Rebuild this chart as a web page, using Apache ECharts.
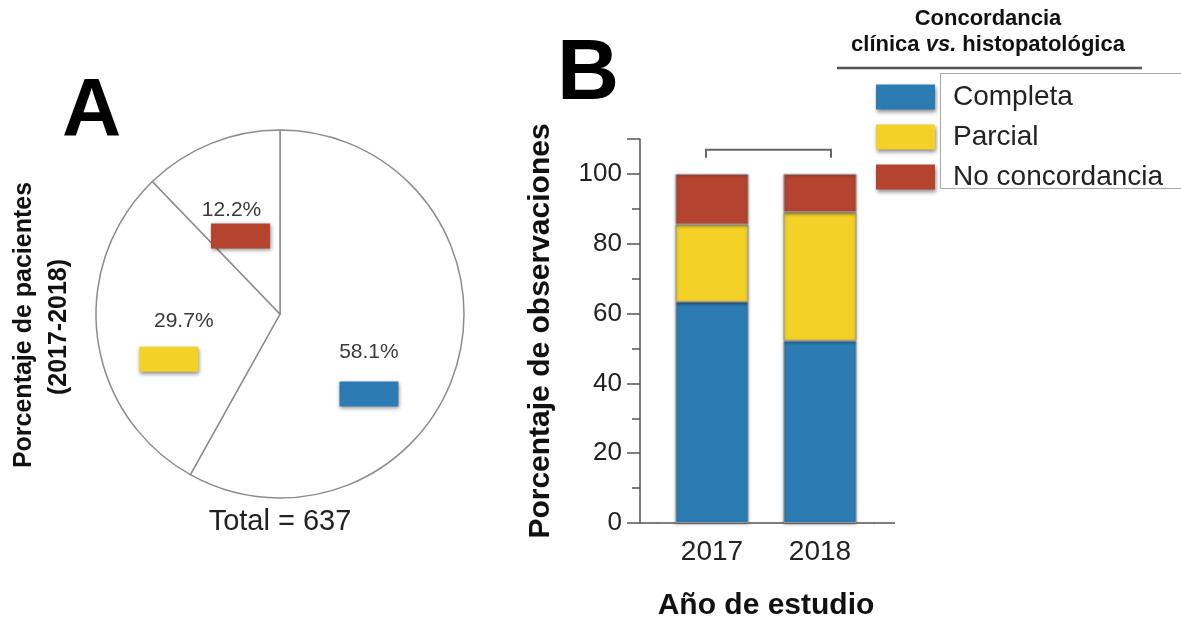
<!DOCTYPE html>
<html>
<head>
<meta charset="utf-8">
<script src="https://cdn.jsdelivr.net/npm/echarts@6/dist/echarts.min.js"></script>
<style>
  html, body { margin: 0; padding: 0; background: #fff; }
  #main { width: 1181px; height: 622px; }
</style>
</head>
<body>
<div id="main"></div>
<script>
// ---------- DATA ----------
const categories = ['2017', '2018'];
const seriesNames = ['Completa', 'Parcial', 'No concordancia'];
const completaValues = [63.3, 52.2];
const parcialValues = [22.2, 36.8];
const noConcordanciaValues = [14.5, 11.0];
const pieValues = [58.1, 29.7, 12.2];
const pieTotalText = 'Total = 637';
const pieTitleLines = ['Porcentaje de pacientes', '(2017-2018)'];
const legendTitleLine1 = 'Concordancia';
const legendTitleLine2 = ['clínica ', 'vs.', ' histopatológica'];
const xAxisTitle = 'Año de estudio';
const yAxisTitle = 'Porcentaje de observaciones';
const panelLabels = ['A', 'B'];
// comparison bracket between the two years (y levels in axis units)
const bracketLevels = [104.6, 106.9];

// ---------- STYLE ----------
const FONT = '"Liberation Sans", Arial, Helvetica, sans-serif';
const colors = ['#2c7bb3', '#f4d127', '#b4432f'];
const axisColor = '#555';
// label shifts for pie labels (dx, dy) and text spacing
const pieLabelShift = [[-3, 27], [-17, 8], [-4, -3]];
const pieTextLineHeight = [58, 50, 26];
const pieTextPadding = [[0, 0, 0, 0], [0, 0, 0, 30], [0, 18, 0, 0]];

const chart = echarts.init(document.getElementById('main'), null, { renderer: 'canvas' });

const shadow = { shadowBlur: 4, shadowColor: 'rgba(0,0,0,0.45)', shadowOffsetX: 1, shadowOffsetY: 2 };

const pieRich = {};
seriesNames.forEach((n, i) => {
  pieRich['p' + i] = {
    fontFamily: FONT, fontSize: 21, color: '#3a3a3a',
    lineHeight: pieTextLineHeight[i], padding: pieTextPadding[i]
  };
  pieRich['b' + i] = Object.assign({
    width: 59, height: 25, backgroundColor: colors[i], lineHeight: 25
  }, shadow);
});

const barValues = [completaValues, parcialValues, noConcordanciaValues];

const barSeries = seriesNames.map((name, i) => ({
  name: name,
  type: 'bar',
  stack: 'total',
  xAxisIndex: 0,
  yAxisIndex: 0,
  barWidth: 73,
  data: barValues[i],
  itemStyle: Object.assign({
    color: colors[i], borderColor: '#9a9a9a', borderWidth: 1
  }, { shadowBlur: 3, shadowColor: 'rgba(0,0,0,0.35)', shadowOffsetY: 1 }),
  emphasis: { disabled: true },
  silent: true
}));

const bracketSeries = {
  name: 'bracket',
  type: 'custom',
  xAxisIndex: 0,
  yAxisIndex: 0,
  silent: true,
  data: [[0, bracketLevels[1]]],
  renderItem: (params, api) => {
    const l0 = api.coord([categories[0], bracketLevels[0]]);
    const l1 = api.coord([categories[0], bracketLevels[1]]);
    const r0 = api.coord([categories[1], bracketLevels[0]]);
    const r1 = api.coord([categories[1], bracketLevels[1]]);
    return {
      type: 'polyline',
      shape: { points: [[l0[0] - 6, l0[1]], [l1[0] - 6, l1[1]], [r1[0] + 11, r1[1]], [r0[0] + 11, r0[1]]] },
      style: { stroke: '#666', lineWidth: 2, fill: null }
    };
  }
};

const option = {
  backgroundColor: '#fff',
  animation: false,
  textStyle: { fontFamily: FONT },
  grid: { left: 658, top: 139, width: 216, height: 384, containLabel: false, outerBoundsMode: 'none' },
  legend: {
    data: seriesNames,
    orient: 'vertical',
    left: 871,
    top: 78,
    itemWidth: 59,
    itemHeight: 25,
    itemGap: 12,
    icon: 'rect',
    selectedMode: false,
    z: 10,
    itemStyle: { borderWidth: 0, shadowBlur: 4, shadowColor: 'rgba(0,0,0,0.45)', shadowOffsetX: 1, shadowOffsetY: 2 },
    textStyle: { fontFamily: FONT, fontSize: 28, color: '#222', padding: [0, 0, 0, 13] }
  },
  xAxis: {
    type: 'category',
    data: categories,
    boundaryGap: true,
    axisLine: { lineStyle: { color: axisColor, width: 1.5 } },
    axisTick: { alignWithLabel: true, length: 9, lineStyle: { color: axisColor, width: 1.5 } },
    axisLabel: { fontFamily: FONT, fontSize: 28, color: '#222', margin: 15 },
    name: xAxisTitle,
    nameLocation: 'middle',
    nameGap: 68,
    nameTextStyle: { fontFamily: FONT, fontSize: 30, fontWeight: 'bold', color: '#111' }
  },
  yAxis: [
    {
      type: 'value',
      min: 0, max: 110, interval: 10,
      offset: 18,
      axisLine: { show: true, lineStyle: { color: axisColor, width: 1.5 } },
      axisTick: { show: true, length: 8, lineStyle: { color: axisColor, width: 1.5 } },
      splitLine: { show: false },
      axisLabel: {
        fontFamily: FONT, fontSize: 26, color: '#222', margin: 18,
        formatter: v => (v % 20 === 0 && v <= 100) ? String(v) : ''
      },
      name: yAxisTitle,
      nameLocation: 'middle',
      nameGap: 84,
      nameTextStyle: { fontFamily: FONT, fontSize: 30, fontWeight: 'bold', color: '#111' }
    },
    {
      type: 'value',
      min: 0, max: 110, interval: 20,
      position: 'left',
      offset: 18,
      axisLine: { show: false },
      axisTick: { show: true, length: 13, lineStyle: { color: axisColor, width: 1.5 } },
      splitLine: { show: false },
      axisLabel: { show: false }
    }
  ],
  series: [
    ...barSeries,
    bracketSeries,
    {
      name: 'pie',
      type: 'pie',
      center: [280, 314],
      radius: 184,
      startAngle: 90,
      clockwise: true,
      silent: true,
      emphasis: { disabled: true },
      itemStyle: { color: '#fff', borderColor: '#8c8c8c', borderWidth: 1.5 },
      labelLine: { show: false },
      label: {
        show: true,
        position: 'inside',
        formatter: p => '{p' + p.dataIndex + '|' + p.value.toFixed(1) + '%}\n{b' + p.dataIndex + '|}',
        rich: pieRich
      },
      labelLayout: params => ({ dx: pieLabelShift[params.dataIndex][0], dy: pieLabelShift[params.dataIndex][1] }),
      data: seriesNames.map((n, i) => ({ name: n, value: pieValues[i], itemStyle: { color: '#fff' } }))
    }
  ],
  graphic: [
    { type: 'text', z: 20, left: 62, top: 71,
      style: { text: panelLabels[0], font: 'bold 82px ' + FONT, fill: '#000' } },
    { type: 'text', z: 20, left: 557, top: 32,
      style: { text: panelLabels[1], font: 'bold 86px ' + FONT, fill: '#000' } },
    { type: 'text', z: 20, x: 24, y: 325, rotation: Math.PI / 2,
      style: { text: pieTitleLines[0], font: 'bold 25px ' + FONT, fill: '#111', align: 'center', verticalAlign: 'middle' } },
    { type: 'text', z: 20, x: 59, y: 327, rotation: Math.PI / 2,
      style: { text: pieTitleLines[1], font: 'bold 25px ' + FONT, fill: '#111', align: 'center', verticalAlign: 'middle' } },
    { type: 'text', z: 20, x: 280, y: 522,
      style: { text: pieTotalText, font: '29px ' + FONT, fill: '#222', align: 'center', verticalAlign: 'middle' } },
    { type: 'text', z: 20, x: 988, y: 19,
      style: { text: legendTitleLine1, font: 'bold 22px ' + FONT, fill: '#111', align: 'center', verticalAlign: 'middle' } },
    { type: 'text', z: 20, x: 988, y: 45,
      style: {
        text: '{n|' + legendTitleLine2[0] + '}{i|' + legendTitleLine2[1] + '}{n|' + legendTitleLine2[2] + '}',
        align: 'center', verticalAlign: 'middle',
        rich: {
          n: { font: 'bold 22px ' + FONT, fill: '#111' },
          i: { font: 'italic bold 22px ' + FONT, fill: '#111' }
        }
      } },
    { type: 'line', z: 20, shape: { x1: 837, y1: 68, x2: 1142, y2: 68 },
      style: { stroke: '#555', lineWidth: 2.5 } },
    { type: 'rect', z: 1, shape: { x: 940.5, y: 73.5, width: 260, height: 115 },
      style: { fill: '#fff', stroke: '#aaa', lineWidth: 1 } },
    { type: 'line', z: 20, shape: { x1: 640, y1: 523, x2: 658, y2: 523 },
      style: { stroke: axisColor, lineWidth: 1.5 } },
    { type: 'line', z: 20, shape: { x1: 874, y1: 523, x2: 895, y2: 523 },
      style: { stroke: axisColor, lineWidth: 1.5 } }
  ]
};

chart.setOption(option);
</script>
</body>
</html>
